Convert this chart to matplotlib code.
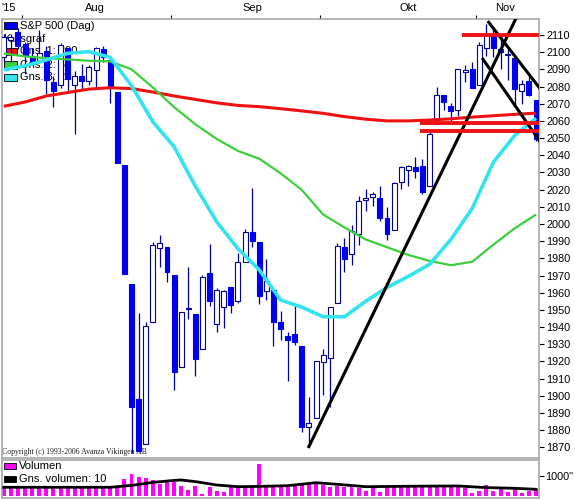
import matplotlib
matplotlib.use('Agg')
import matplotlib.pyplot as plt
from matplotlib.patches import Rectangle

plt.rcParams['font.family'] = ['Liberation Sans', 'DejaVu Sans']

# =========================
# S&P 500 dagsdata (29 jul - 12 nov 2015)
# =========================
opens = [2097.0, 2106.8, 2111.6, 2104.5, 2097.7, 2095.3, 2100.8, 2082.6, 2081.0, 2102.7,
         2081.1, 2086.2, 2083.2, 2089.7, 2102.0, 2095.7, 2076.6, 2034.1, 1965.2, 1898.1,
         1872.2, 1942.8, 1986.1, 1986.7, 1970.1, 1916.5, 1950.8, 1947.8, 1927.3, 1971.5,
         1941.8, 1951.5, 1963.1, 1955.1, 1978.0, 1995.3, 1989.7, 1960.8, 1961.4, 1943.2,
         1934.8, 1935.9, 1929.2, 1881.9, 1887.1, 1919.7, 1921.8, 1954.3, 1986.6, 1982.3,
         1994.0, 2013.7, 2015.7, 2015.0, 2003.7, 1996.5, 2024.4, 2031.7, 2033.1, 2033.5,
         2021.9, 2058.2, 2075.1, 2068.8, 2066.5, 2088.4, 2090.0, 2080.8, 2102.6, 2110.6,
         2101.7, 2098.6, 2096.6, 2077.2, 2083.4, 2072.3]
highs = [2110.6, 2110.5, 2114.2, 2105.7, 2102.5, 2112.7, 2103.3, 2086.0, 2105.4, 2102.7,
         2089.0, 2092.9, 2092.5, 2102.9, 2103.5, 2096.2, 2076.6, 2034.1, 1965.2, 1948.0,
         1943.1, 1989.6, 1993.5, 1986.7, 1970.1, 1948.9, 1975.0, 1947.8, 1970.4, 1988.6,
         1962.5, 1961.4, 1963.1, 1983.2, 1997.3, 2020.9, 1989.7, 1979.6, 1961.4, 1949.5,
         1937.2, 1952.9, 1929.2, 1899.5, 1920.5, 1927.2, 1951.4, 1989.2, 1991.6, 1999.3,
         2016.5, 2020.1, 2018.7, 2022.3, 2009.6, 2024.2, 2033.5, 2034.4, 2039.1, 2038.0,
         2055.2, 2079.7, 2075.1, 2070.4, 2090.4, 2092.5, 2094.3, 2106.2, 2116.5, 2114.6,
         2108.8, 2101.9, 2096.6, 2083.7, 2086.9, 2072.3]
lows = [2094.1, 2094.1, 2102.1, 2087.3, 2092.8, 2095.3, 2075.5, 2067.9, 2079.0, 2076.5,
        2052.1, 2078.3, 2080.6, 2079.3, 2094.1, 2070.5, 2035.7, 1970.9, 1867.0, 1867.1,
        1872.2, 1942.8, 1975.2, 1966.0, 1903.1, 1916.5, 1944.7, 1911.7, 1927.3, 1952.0,
        1937.3, 1939.2, 1948.3, 1954.3, 1977.9, 1986.7, 1953.5, 1955.8, 1929.2, 1932.6,
        1908.9, 1929.7, 1879.2, 1871.9, 1887.1, 1900.7, 1893.7, 1954.3, 1972.0, 1976.4,
        1987.5, 2007.6, 2010.6, 2001.8, 1990.7, 1996.5, 2020.5, 2022.3, 2026.6, 2017.2,
        2021.9, 2058.2, 2066.5, 2058.8, 2063.1, 2082.6, 2079.3, 2080.8, 2097.5, 2097.0,
        2090.4, 2083.7, 2068.2, 2069.9, 2074.4, 2048.5]
closes = [2108.6, 2108.6, 2103.8, 2098.0, 2093.3, 2099.8, 2083.6, 2077.6, 2104.2, 2084.1,
          2086.1, 2083.4, 2091.5, 2102.4, 2096.9, 2079.6, 2035.7, 1970.9, 1893.2, 1867.6,
          1940.5, 1987.7, 1988.9, 1972.2, 1913.9, 1948.9, 1951.1, 1921.2, 1969.4, 1955.3,
          1961.4, 1961.1, 1953.0, 1978.1, 1995.3, 1990.2, 1958.0, 1967.0, 1942.7, 1938.8,
          1932.2, 1931.3, 1881.8, 1884.1, 1920.0, 1923.8, 1951.4, 1987.0, 1979.9, 1995.8,
          2013.4, 2014.9, 2017.5, 2003.7, 1994.2, 2023.9, 2033.1, 2033.7, 2030.8, 2018.9,
          2052.5, 2075.2, 2071.2, 2065.9, 2090.4, 2089.4, 2079.4, 2104.1, 2109.8, 2102.3,
          2099.9, 2099.2, 2078.6, 2081.7, 2075.0, 2049.5]
volumes = [430, 420, 440, 430, 420, 430, 430, 420, 430, 420, 430, 420,
           380, 420, 380, 430,
           520, 850, 1100, 970, 900, 780, 620, 720, 700, 520, 300, 500,
           120, 460, 230, 180, 430, 430, 430, 520, 1600, 430, 430, 430,
           470, 500, 550, 580, 650, 550, 470, 500, 470, 470, 380, 250,
           470, 180, 430, 430, 430, 470, 470, 430, 430, 520, 470, 520,
           430, 380, 130, 250, 550, 250, 380, 180, 380, 170, 250, 350]

# glidande medelvärden, avlästa var tredje dag
ma_days = list(range(0, 76, 3))
ma200 = [2068.5, 2071.0, 2074.5, 2076.5, 2078.5, 2079.3, 2078.8, 2076.8, 2074.5, 2072.5,
         2070.5, 2069.0, 2068.3, 2067.1, 2065.8, 2064.4, 2062.5, 2061.0, 2060.0, 2060.0,
         2060.5, 2061.2, 2062.2, 2063.0, 2063.8, 2064.5]
ma50 = [2099.2, 2097.5, 2096.5, 2095.8, 2095.0, 2094.6, 2090.0, 2079.5, 2068.0, 2058.0,
        2049.5, 2042.5, 2038.0, 2029.5, 2019.8, 2005.5, 1998.0, 1991.0, 1986.5, 1982.0,
        1978.5, 1976.0, 1978.0, 1988.0, 1997.5, 2005.5]
ma20 = [2089.7, 2092.0, 2095.5, 2099.3, 2100.3, 2097.0, 2080.5, 2059.5, 2045.0, 2022.0,
        2001.3, 1985.6, 1973.3, 1955.8, 1951.6, 1946.0, 1946.0, 1955.0, 1963.0, 1969.5,
        1976.5, 1991.0, 2009.0, 2036.0, 2051.5, 2061.5]

vol_avg_days = [0, 5, 10, 15, 18, 21, 24, 25, 27, 30, 33, 36, 40, 44, 47, 51, 55, 60, 64, 68, 72, 75]
vol_avg = [435, 435, 435, 435, 530, 680, 780, 800, 720, 550, 465, 480, 515, 665, 585, 465,
           480, 495, 500, 420, 385, 335]

# inritade trendlinjer (dag, kurs)
trend_lines = [
    ([42.9, 72.2], [1869.6, 2119.9]),
    ([68.2, 75.6], [2118.1, 2078.6]),
    ([67.4, 75.6], [2096.6, 2047.7]),
]
# horisontella stöd/motstånd
levels = [2110, 2059, 2054]
level_start = [64.6, 58.7, 58.7]

month_ticks = [2.5, 23.5, 44.5, 66.5]
month_labels = ["'15", 'Aug', 'Sep', 'Okt', 'Nov']

# =========================
# layout (pixlar)
# =========================
W, H = 575, 500
fig = plt.figure(figsize=(W / 100, H / 100), dpi=100)
fig.patch.set_facecolor('white')


def fx(px):
    return px / W


def fy(py):
    return 1 - py / H


X0, X1 = 1.5, 539
ax = fig.add_axes([fx(X0), fy(458), (X1 - X0) / W, (458 - 19) / H])
axv = fig.add_axes([fx(X0), fy(497.5), (X1 - X0) / W, (497.5 - 459.5) / H])

n = len(closes)
xlim = (-0.32, 75.42)
BLUE = '#0000ee'
NAVY = '#00009a'
GRAY = '#a8a8a8'

# --- candles ---
for i in range(n):
    o, h, l, c = opens[i], highs[i], lows[i], closes[i]
    top, bot = max(o, c), min(o, c)
    ax.vlines(i, top, h, color=NAVY, lw=0.9, zorder=3)
    ax.vlines(i, l, bot, color=NAVY, lw=0.9, zorder=3)
    up = c >= o
    ax.add_patch(Rectangle((i - 0.35, bot), 0.7, max(top - bot, 0.35),
                           facecolor='white' if up else BLUE,
                           edgecolor=NAVY if up else BLUE, lw=0.8, zorder=3))

# --- medelvärden ---
ax.plot(ma_days, ma200, color='#ee1111', lw=2.2, zorder=4, solid_capstyle='butt')
ax.plot(ma_days, ma50, color='#3ccf3c', lw=1.6, zorder=4, solid_capstyle='butt')
ax.plot(ma_days, ma20, color='#33e3ee', lw=2.6, zorder=4, solid_capstyle='butt')

# --- trendlinjer ---
for tx, ty in trend_lines:
    ax.plot(tx, ty, color='black', lw=2.2, zorder=5, solid_capstyle='butt')
for lv, st in zip(levels, level_start):
    ax.plot([st, xlim[1]], [lv, lv], color='#ee1111', lw=2.8, zorder=6, solid_capstyle='butt')

ax.set_xlim(*xlim)
ax.set_ylim(1863.8, 2119.3)
ax.yaxis.tick_right()
ax.set_yticks(range(1870, 2111, 10))
ax.tick_params(axis='y', length=3.6, width=0.8, pad=1.5, labelsize=7.8, colors='black')
ax.xaxis.tick_top()
ax.set_xticks(month_ticks)
ax.set_xticklabels([])
ax.tick_params(axis='x', length=3, width=0.8, color='black')
for s in ax.spines.values():
    s.set_color(GRAY)
    s.set_linewidth(1.2)

# månadsetiketter
for lab, px in zip(month_labels, [1, 95, 252, 408, 505]):
    fig.text(fx(px), fy(11), lab, fontsize=8, ha='left' if lab == "'15" else 'center',
             va='baseline')

# --- legend (under staplarna) ---
tf = fig.transFigure


def legend_box(px, py, color):
    ax.add_patch(Rectangle((fx(px), fy(py + 7)), 13 / W, 7 / H, transform=tf,
                           facecolor=color, edgecolor='black', lw=0.6, zorder=1))


legend_box(4, 22, BLUE)
ax.text(fx(20), fy(26), 'S&P 500 (Dag)', transform=tf, fontsize=8, va='center', zorder=1)
ax.text(fx(3), fy(39), 'Kursgraf', transform=tf, fontsize=8, va='center', zorder=1)
legend_box(4, 48, '#ee1111')
ax.text(fx(20), fy(51.5), 'Gns. 1: 200', transform=tf, fontsize=8, va='center', zorder=1)
legend_box(4, 61.5, '#3ccf3c')
ax.text(fx(20), fy(65), 'Gns. 2: 50', transform=tf, fontsize=8, va='center', zorder=1)
legend_box(4, 74, '#33e3ee')
ax.text(fx(20), fy(77.5), 'Gns. 3: 20', transform=tf, fontsize=8, va='center', zorder=1)

ax.text(fx(2), fy(452), 'Copyright (c) 1993-2006 Avanza Vikingen AB', transform=tf,
        family=['Liberation Serif', 'DejaVu Serif'], fontsize=5.6, va='center',
        color='#222222', zorder=1)

# --- volym ---
axv.bar(range(n), volumes, width=0.56, color='#ff00ff', zorder=2)
axv.plot(vol_avg_days, vol_avg, color='black', lw=2.0, zorder=3)
axv.set_xlim(*xlim)
axv.set_ylim(-75, 1825)
axv.set_xticks([])
axv.yaxis.tick_right()
axv.set_yticks([1000])
axv.set_yticklabels(['1000"'])
axv.tick_params(axis='y', length=3.6, width=0.8, pad=0.5, labelsize=7.8)
for s in axv.spines.values():
    s.set_color(GRAY)
    s.set_linewidth(1.2)

axv.add_patch(Rectangle((fx(4), fy(469)), 12 / W, 6 / H, transform=tf,
                        facecolor='#ff00ff', edgecolor='black', lw=0.6, zorder=1))
axv.text(fx(19), fy(466), 'Volumen', transform=tf, fontsize=8, va='center', zorder=1)
axv.add_patch(Rectangle((fx(4), fy(482)), 12 / W, 6 / H, transform=tf,
                        facecolor='black', edgecolor='black', lw=0.6, zorder=1))
axv.text(fx(19), fy(479), 'Gns. volumen: 10', transform=tf, fontsize=8, va='center', zorder=1)

fig.savefig('out.png', dpi=100, facecolor='white')
